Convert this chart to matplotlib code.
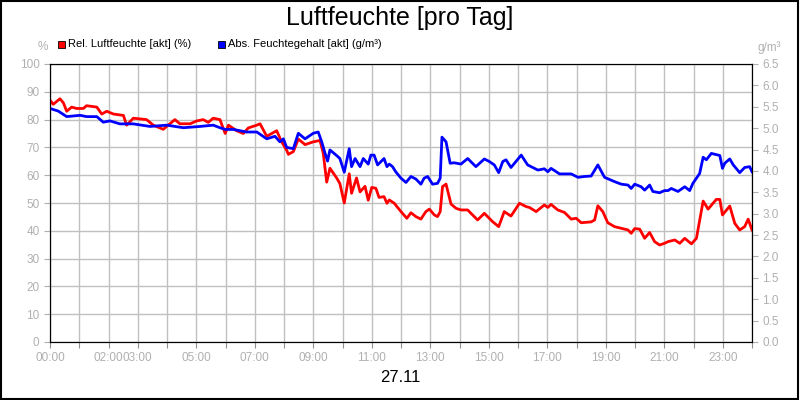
import matplotlib
matplotlib.use("Agg")
import matplotlib.pyplot as plt
from matplotlib.patches import Rectangle

plt.rcParams['font.family'] = ['Liberation Sans', 'DejaVu Sans']

rel_t = [0.00,0.11,0.34,0.46,0.57,0.74,0.91,1.14,1.25,1.60,1.77,1.94,2.17,2.51,2.62,2.85,3.30,3.53,3.87,4.10,4.27,4.44,4.79,5.01,5.24,5.41,5.58,5.81,5.99,6.10,6.38,6.61,6.78,7.07,7.18,7.41,7.58,7.75,7.92,8.09,8.15,8.32,8.49,8.72,9.00,9.23,9.34,9.46,9.57,9.80,9.91,10.06,10.23,10.31,10.48,10.60,10.77,10.88,
         11.00,11.14,11.25,11.42,11.52,11.60,11.77,12.00,12.20,12.34,12.51,12.68,12.85,12.97,13.14,13.25,13.34,13.42,13.54,13.71,13.88,14.05,14.28,14.39,14.62,14.85,14.96,15.13,15.34,15.53,15.76,16.05,16.28,16.39,16.62,16.90,17.02,17.13,17.36,17.59,17.82,17.99,18.16,18.50,18.62,18.73,18.90,19.07,19.30,19.53,19.76,19.87,19.99,20.16,20.33,20.50,20.67,20.84,21.01,21.13,21.36,21.53,21.70,21.93,22.10,22.33,22.50,22.78,22.90,22.99,23.24,23.41,23.58,23.75,23.87,24.00]
rel_v = [87,85.5,87.5,86,83,84.5,84,84,85,84.5,82,83,82,81.5,78,80.5,80,78,76.5,78.5,80,78.5,78.5,79.5,80,79,80.5,80,75,78,76,75,77,78,78.5,74,75,76,72,69,67.5,68.5,73,71,72,72.5,68,57.5,62.5,59,57,50,60.5,53.5,59,54,56,51,
         55.6,55.3,52.0,52.3,49.9,51.1,49.9,46.9,44.5,46.5,45.1,44.2,46.9,47.8,45.7,45.1,46.9,55.9,56.8,49.6,48.1,47.5,47.5,46.3,43.9,46.3,45.1,43.3,41.5,46.9,45.3,49.9,48.7,48.4,46.9,49.3,48.4,49.5,47.5,46.6,44.2,44.5,42.9,43.2,43.9,49.0,46.9,42.9,41.5,40.9,40.3,39.1,40.8,40.6,37.3,39.4,36.1,34.9,35.5,36.1,36.7,35.5,37.3,35.3,37.3,50.7,47.8,51.3,51.3,45.7,48.9,42.7,40.3,41.5,44.2,40.3]

abs_t = [0.00,0.28,0.57,1.03,1.25,1.60,1.82,2.05,2.39,2.85,3.42,3.99,4.56,5.13,5.58,5.81,5.99,6.27,6.72,7.07,7.41,7.69,7.86,7.98,8.09,8.32,8.49,8.72,9.00,9.17,9.29,9.40,9.49,9.57,9.80,9.91,10.06,10.23,10.31,10.43,10.60,10.71,10.88,
         10.97,11.08,11.20,11.42,11.52,11.60,11.71,11.82,12.00,12.17,12.34,12.51,12.68,12.79,12.91,13.08,13.25,13.34,13.40,13.54,13.68,13.82,14.05,14.28,14.56,14.85,15.02,15.19,15.34,15.48,15.59,15.76,16.11,16.33,16.68,16.90,17.02,17.13,17.42,17.82,18.05,18.27,18.50,18.73,18.96,19.30,19.53,19.76,19.87,19.99,20.21,20.33,20.50,20.61,20.84,21.01,21.13,21.24,21.47,21.70,21.87,21.98,22.21,22.33,22.44,22.61,22.90,22.99,23.07,23.24,23.36,23.58,23.75,23.92,24.00]
abs_v = [5.46,5.40,5.27,5.30,5.27,5.27,5.14,5.17,5.10,5.10,5.04,5.07,5.01,5.04,5.07,5.01,4.97,4.97,4.91,4.91,4.75,4.81,4.68,4.75,4.55,4.52,4.88,4.75,4.88,4.91,4.68,4.42,4.23,4.49,4.36,4.29,3.97,4.52,4.10,4.29,4.10,4.29,4.16,
         4.37,4.37,4.14,4.29,4.10,4.16,4.10,3.98,3.83,3.73,3.87,3.81,3.69,3.83,3.87,3.69,3.71,3.83,4.79,4.68,4.18,4.19,4.16,4.29,4.10,4.28,4.22,4.14,3.96,4.22,4.26,4.08,4.37,4.14,4.02,4.05,3.98,4.06,3.93,3.93,3.85,3.87,3.88,4.14,3.85,3.75,3.69,3.67,3.59,3.69,3.63,3.55,3.67,3.52,3.49,3.54,3.54,3.59,3.52,3.63,3.54,3.71,3.94,4.32,4.26,4.41,4.36,4.06,4.18,4.28,4.14,3.96,4.08,4.10,3.98]

hour_labels = {0: "00:00", 2: "02:00", 3: "03:00", 5: "05:00", 7: "07:00", 9: "09:00", 11: "11:00",
               13: "13:00", 15: "15:00", 17: "17:00", 19: "19:00", 21: "21:00", 23: "23:00"}
left_ticks = list(range(0, 101, 10))
right_ticks = [i * 0.5 for i in range(14)]

grey = "#b0b0b0"
fig = plt.figure(figsize=(8, 4), dpi=100)
fig.patches.append(Rectangle((0.001, 0.002), 0.997, 0.995, transform=fig.transFigure,
                             fill=False, edgecolor="black", linewidth=1.5))
ax = fig.add_axes([0.0625, 0.145, 0.8775, 0.695])
ax2 = ax.twinx()
ax.grid(True, color="#c0c0c0", lw=1, zorder=0)
ax.set_axisbelow(True)
ax.plot(rel_t, rel_v, color="#ff0000", lw=2, zorder=3)
ax2.plot(abs_t, abs_v, color="#0000ff", lw=2)
ax.set_xlim(0, 24); ax.set_ylim(0, 100); ax2.set_ylim(0, 6.5)
ax.set_xticks(range(25))
ax.set_xticklabels([hour_labels.get(h, "") for h in range(25)])
ax.set_yticks(left_ticks)
ax2.set_yticks(right_ticks)
ax2.set_yticklabels([f"{v:.1f}" for v in right_ticks])
for a in (ax, ax2):
    a.tick_params(colors=grey, labelsize=8.5, length=4, labelcolor=grey)
    for s in a.spines.values():
        s.set_color("black")
ax.tick_params(axis="x", colors="#909090", labelcolor=grey)

fig.text(0.5, 0.955, "Luftfeuchte [pro Tag]", ha="center", va="center", fontsize=18)
fig.text(0.5, 0.055, "27.11", ha="center", va="center", fontsize=12)
fig.text(0.053, 0.882, "%", ha="center", va="center", fontsize=8.5, color=grey)
fig.text(0.962, 0.882, "g/m³", ha="center", va="center", fontsize=8.5, color=grey)
fig.patches.append(Rectangle((0.0725, 0.88), 0.009, 0.018, transform=fig.transFigure,
                             facecolor="#ff0000", edgecolor="black", lw=0.6))
fig.text(0.085, 0.889, "Rel. Luftfeuchte [akt] (%)", va="center", fontsize=8)
fig.patches.append(Rectangle((0.2725, 0.88), 0.009, 0.018, transform=fig.transFigure,
                             facecolor="#0000ff", edgecolor="black", lw=0.6))
fig.text(0.285, 0.889, "Abs. Feuchtegehalt [akt] (g/m³)", va="center", fontsize=8)

fig.savefig("out.png", dpi=100)
